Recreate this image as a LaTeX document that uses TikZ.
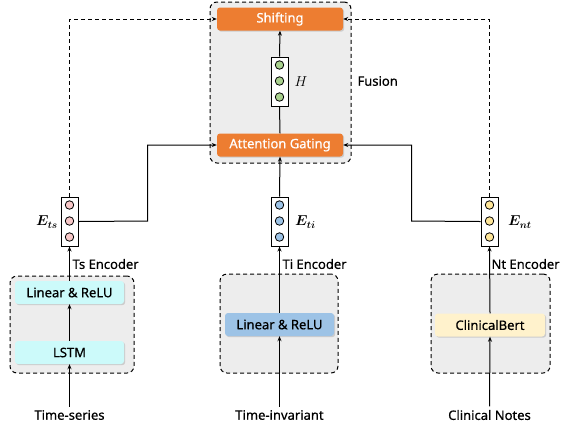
\documentclass[tikz,border=0pt]{standalone}
\usepackage{fontspec}
\setmainfont{Noto Sans}[FakeBold=0.6]
\usepackage{amsmath,bm}
\usetikzlibrary{arrows.meta,shadows}
\definecolor{orangeC}{HTML}{ED7D31}
\definecolor{grpfill}{HTML}{EDEDED}
\definecolor{cyanC}{HTML}{CCFAFA}
\definecolor{blueC}{HTML}{9DC3E6}
\definecolor{yellowC}{HTML}{FFF2CC}
\definecolor{greenD}{HTML}{A9D18E}
\definecolor{pinkD}{HTML}{F8C8C8}
\definecolor{blueD}{HTML}{9DC3E6}
\definecolor{yellowD}{HTML}{FFE699}
\begin{document}
\begin{tikzpicture}[x=1pt,y=-1pt,font=\fontsize{13}{15}\selectfont,
  grp/.style={draw, dash pattern=on 4pt off 3pt, rounded corners=7pt, fill=grpfill, line width=1pt, inner sep=0},
  blk/.style={rounded corners=3pt, minimum width=#1, minimum height=23pt, inner sep=0,
    drop shadow={opacity=0.3, shadow xshift=1.2pt, shadow yshift=-1.2pt}},
  vec/.style={draw, fill=white, minimum width=17pt, minimum height=49pt, line width=1pt, inner sep=0},
  dot/.style={circle, draw, inner sep=0, minimum size=8.5pt, line width=0.8pt},
  mlab/.style={font=\fontsize{14.5}{17}\selectfont, inner sep=1pt},
  arr/.style={-{Stealth[length=5pt,width=4pt]}, line width=1pt},
  lnk/.style={line width=1pt}]
\useasboundingbox (0,0) rectangle (569,432);

% group boxes
\node[grp, minimum width=141pt, minimum height=161pt] (fusion) at (280.5,82.5) {};
\node[grp, minimum width=124pt, minimum height=97pt] (tsgrp) at (72,324.5) {};
\node[grp, minimum width=118pt, minimum height=99pt] (tigrp) at (279,323.5) {};
\node[grp, minimum width=119pt, minimum height=99pt] (ntgrp) at (490.5,323.5) {};

% fusion blocks
\node[blk=126pt, fill=orangeC, text=white] (shift) at (280,19) {Shifting};
\node[blk=126pt, fill=orangeC, text=white] (att) at (280,145) {Attention Gating};
\node[anchor=west] (fusl) at (354,81) {Fusion};

% H vector
\node[vec] (H) at (279.5,81.5) {};
\node[dot, fill=greenD] (h1) at (279.5,65) {};
\node[dot, fill=greenD] (h2) at (279.5,81) {};
\node[dot, fill=greenD] (h3) at (279.5,97) {};
\node[mlab, font=\fontsize{14}{16}\selectfont] (Hl) at (301,82) {$H$};

% encoder blocks
\node[blk=109pt, fill=cyanC] (lin1) at (69.5,292.5) {Linear \& ReLU};
\node[blk=109pt, fill=cyanC] (lstm) at (69.5,352.5) {LSTM};
\node[blk=109pt, fill=blueC] (lin2) at (279.5,324.5) {Linear \& ReLU};
\node[blk=110pt, fill=yellowC] (cb) at (490,325) {ClinicalBert};

% embedding vectors
\node[vec] (ets) at (69.5,221.5) {};
\node[dot, fill=pinkD] (e1) at (69.5,205) {};
\node[dot, fill=pinkD] (e2) at (69.5,221) {};
\node[dot, fill=pinkD] (e3) at (69.5,237) {};
\node[mlab, anchor=east] (etsl) at (59,222) {$\bm{E_{ts}}$};

\node[vec] (eti) at (279.5,221.5) {};
\node[dot, fill=blueD] (i1) at (279.5,205) {};
\node[dot, fill=blueD] (i2) at (279.5,221) {};
\node[dot, fill=blueD] (i3) at (279.5,237) {};
\node[mlab, anchor=west] (etil) at (294,222) {$\bm{E_{ti}}$};

\node[vec] (ent) at (489.5,221.5) {};
\node[dot, fill=yellowD] (n1) at (489.5,205) {};
\node[dot, fill=yellowD] (n2) at (489.5,221) {};
\node[dot, fill=yellowD] (n3) at (489.5,237) {};
\node[mlab, anchor=west] (entl) at (507,222) {$\bm{E_{nt}}$};

% encoder labels
\node[anchor=west] (tsenc) at (69,264) {Ts Encoder};
\node[anchor=west] (tienc) at (279,264) {Ti Encoder};
\node[anchor=west] (ntenc) at (488,264) {Nt Encoder};

% inputs
\node (tsin) at (69.5,415) {Time-series};
\node (tiin) at (279.5,415) {Time-invariant};
\node (ntin) at (489.5,415) {Clinical Notes};

% connectors
\draw[arr] (tsin.north) -- (lstm.south);
\draw[arr] (lstm.north) -- (lin1.south);
\draw[arr] (lin1.north) -- (ets.south);
\draw[arr] (tiin.north) -- (lin2.south);
\draw[arr] (lin2.north) -- (eti.south);
\draw[arr] (ntin.north) -- (cb.south);
\draw[arr] (cb.north) -- (ent.south);

\coordinate (c1) at (147.5,221);
\coordinate (c2) at (411.5,221);
\draw[arr] (ets.east) -- (c1) |- (att.west);
\draw[arr] (ent.west) -- (c2) |- (att.east);
\draw[arr] (eti.north) -- (att.south);
\draw[lnk] (att.north) -- (H.south);
\draw[arr] (H.north) -- (shift.south);

\draw[arr, dash pattern=on 4pt off 3pt] (ets.north) |- (shift.west);
\draw[arr, dash pattern=on 4pt off 3pt] (ent.north) |- (shift.east);
\end{tikzpicture}
\end{document}
